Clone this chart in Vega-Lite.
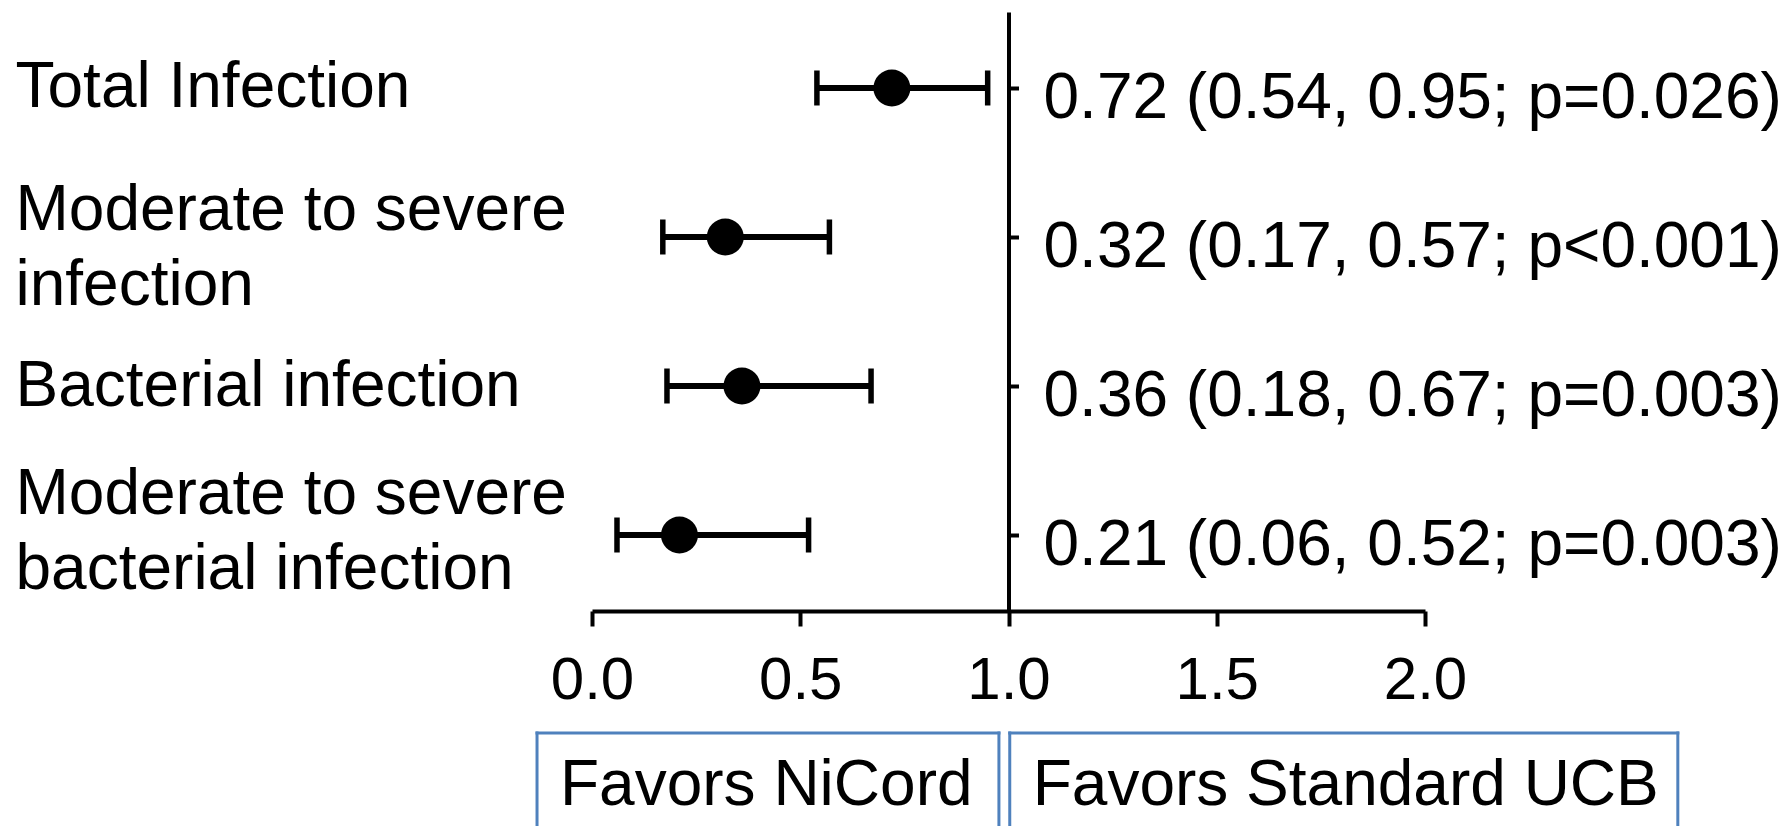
{
  "$schema": "https://vega.github.io/schema/vega-lite/v6.json",
  "padding": {"left": 15, "top": 12, "right": 0, "bottom": 0},
  "background": "white",
  "spacing": 20,
  "config": {
    "font": "Liberation Sans",
    "view": {"stroke": null},
    "axis": {"labelColor": "black", "domainColor": "black", "tickColor": "black", "grid": false}
  },
  "vconcat": [
    {
      "width": 833,
      "height": 599,
      "data": {
        "values": [
          {"label": "Total Infection", "est": 0.72, "lo": 0.54, "hi": 0.95, "txt": "0.72 (0.54, 0.95; p=0.026)"},
          {"label": "Moderate to severe|infection", "est": 0.32, "lo": 0.17, "hi": 0.57, "txt": "0.32 (0.17, 0.57; p<0.001)"},
          {"label": "Bacterial infection", "est": 0.36, "lo": 0.18, "hi": 0.67, "txt": "0.36 (0.18, 0.67; p=0.003)"},
          {"label": "Moderate to severe|bacterial infection", "est": 0.21, "lo": 0.06, "hi": 0.52, "txt": "0.21 (0.06, 0.52; p=0.003)"}
        ]
      },
      "layer": [
        {
          "mark": {"type": "rule", "color": "black", "strokeWidth": 6},
          "encoding": {
            "x": {"field": "lo", "type": "quantitative", "scale": {"domain": [0, 2], "nice": false},
              "axis": {"title": null, "values": [0, 0.5, 1, 1.5, 2], "format": ".1f", "labelFontSize": 60, "tickSize": 15, "tickWidth": 4, "domainWidth": 4, "labelPadding": 72, "labelBaseline": "alphabetic", "labelFlush": false, "labelOverlap": false}},
            "x2": {"field": "hi"},
            "y": {"field": "label", "type": "nominal", "sort": null, "scale": {"type": "point", "padding": 0.51},
              "axis": {"orient": "left", "title": null, "domain": false, "ticks": false, "labelAlign": "left", "labelPadding": 577, "labelFontSize": 64, "labelLimit": 2000, "labelLineHeight": 75, "labelExpr": "split(datum.value, '|')",
                "labelOffset": {"condition": [
                  {"test": "datum.value === 'Moderate to severe|infection'", "value": -26},
                  {"test": "datum.value === 'Moderate to severe|bacterial infection'", "value": -41}
                ], "value": 0}}}
          }
        },
        {
          "mark": {"type": "tick", "color": "black", "thickness": 5.5, "size": 35, "opacity": 1},
          "encoding": {
            "x": {"field": "lo", "type": "quantitative", "axis": {"title": null}},
            "y": {"field": "label", "type": "nominal", "sort": null, "axis": null}
          }
        },
        {
          "mark": {"type": "tick", "color": "black", "thickness": 5.5, "size": 35, "opacity": 1},
          "encoding": {
            "x": {"field": "hi", "type": "quantitative", "axis": {"title": null}},
            "y": {"field": "label", "type": "nominal", "sort": null, "axis": null}
          }
        },
        {
          "mark": {"type": "point", "shape": "circle", "filled": true, "color": "black", "size": 1369, "opacity": 1},
          "encoding": {
            "x": {"field": "est", "type": "quantitative", "axis": {"title": null}},
            "y": {"field": "label", "type": "nominal", "sort": null, "axis": null}
          }
        },
        {
          "mark": {"type": "text", "align": "left", "baseline": "alphabetic", "dx": 35, "dy": 30, "fontSize": 64, "color": "black"},
          "encoding": {
            "x": {"datum": 1, "type": "quantitative"},
            "y": {"field": "label", "type": "nominal", "sort": null,
              "axis": {"orient": "right", "offset": -416.5, "title": null, "labels": false, "domain": true, "domainWidth": 4, "ticks": true, "tickSize": 10, "tickWidth": 4}},
            "text": {"field": "txt"}
          }
        }
      ],
      "resolve": {"axis": {"y": "independent"}}
    },
    {
      "width": 833,
      "height": 94,
      "data": {
        "values": [
          {"label": "Favors NiCord", "x1": -0.132, "x2": 0.977},
          {"label": "Favors Standard UCB", "x1": 1.003, "x2": 2.607}
        ]
      },
      "layer": [
        {
          "mark": {"type": "rule", "color": "#4f81bd", "strokeWidth": 3, "strokeCap": "square"},
          "encoding": {"x": {"field": "x1", "type": "quantitative", "scale": {"domain": [0, 2], "nice": false}, "axis": null}}
        },
        {
          "mark": {"type": "rule", "color": "#4f81bd", "strokeWidth": 3, "strokeCap": "square"},
          "encoding": {"x": {"field": "x2", "type": "quantitative"}}
        },
        {
          "mark": {"type": "rule", "color": "#4f81bd", "strokeWidth": 3, "strokeCap": "square"},
          "encoding": {"x": {"field": "x1", "type": "quantitative"}, "x2": {"field": "x2"}, "y": {"value": 0}}
        },
        {
          "mark": {"type": "text", "align": "left", "baseline": "middle", "dx": 23, "dy": 6, "fontSize": 64, "color": "black"},
          "encoding": {"x": {"field": "x1", "type": "quantitative"}, "text": {"field": "label"}}
        }
      ]
    }
  ]
}
